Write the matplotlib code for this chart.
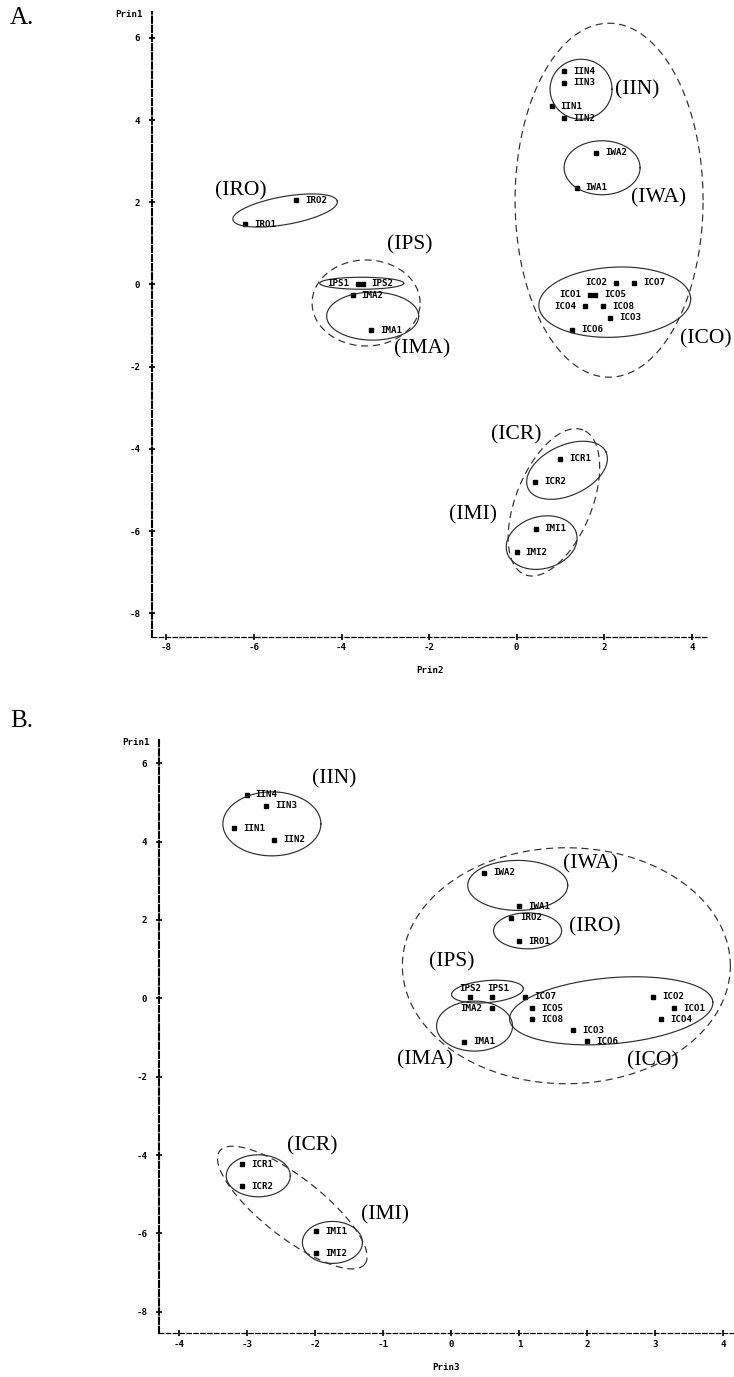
import numpy as np
import matplotlib
matplotlib.use("Agg")
import matplotlib.pyplot as plt

plt.rcParams["axes.unicode_minus"] = False

# principal component scores
samples = ["IIN1", "IIN2", "IIN3", "IIN4", "IWA1", "IWA2", "IRO1", "IRO2",
           "IPS1", "IPS2", "IMA1", "IMA2", "ICO1", "ICO2", "ICO3", "ICO4",
           "ICO5", "ICO6", "ICO7", "ICO8", "ICR1", "ICR2", "IMI1", "IMI2"]
prin1 = [4.34, 4.05, 4.91, 5.19, 2.35, 3.20, 1.46, 2.05,
         0.02, 0.02, -1.11, -0.26, -0.25, 0.04, -0.81, -0.53,
         -0.25, -1.10, 0.04, -0.53, -4.24, -4.80, -5.94, -6.51]
prin2 = [0.80, 1.08, 1.08, 1.08, 1.37, 1.81, -6.21, -5.04,
         -3.62, -3.52, -3.32, -3.75, 1.67, 2.27, 2.13, 1.56,
         1.79, 1.26, 2.68, 1.98, 0.99, 0.42, 0.43, 0.00]
prin3 = [-3.20, -2.61, -2.72, -3.01, 0.99, 0.48, 0.99, 0.88,
         0.59, 0.28, 0.19, 0.59, 3.27, 2.97, 1.79, 3.08,
         1.19, 1.99, 1.08, 1.19, -3.08, -3.08, -1.99, -1.99]

groups = ["(IIN)", "(IWA)", "(IRO)", "(IPS)", "(IMA)", "(ICO)", "(ICR)", "(IMI)"]

# group label positions (data units) per panel
group_pos_a = [(2.75, 4.73), (3.25, 2.10), (-6.31, 2.27), (-2.44, 0.96),
               (-2.16, -1.57), (4.32, -1.33), (-0.02, -3.67), (-1.00, -5.61)]
group_pos_b = [(-1.72, 5.59), (2.05, 3.43), (2.11, 1.82), (0.00, 0.93),
               (-0.38, -1.57), (2.96, -1.60), (-2.04, -3.77), (-0.98, -5.53)]

# outlines: centre (data), semi-axes in pixels, angle in degrees, dashed?
outlines_a = [
    (-5.29, 1.80, 53, 14, 10, False),
    (-3.54, 0.03, 42, 6, 0, False),
    (-3.29, -0.77, 46, 24, 0, False),
    (-3.44, -0.45, 54, 43, 0, True),
    (1.47, 4.75, 31, 30, 0, False),
    (1.95, 2.84, 38, 27, 0, False),
    (2.24, -0.43, 76, 35, 3, False),
    (2.11, 2.05, 94, 177, 0, True),
    (1.15, -4.52, 43, 25, 25, False),
    (0.57, -6.28, 36, 26, 15, False),
    (0.85, -5.30, 78, 38, 68, True),
]
outlines_b = [
    (-2.64, 4.45, 49, 32, 0, False),
    (0.975, 2.88, 50, 25, 0, False),
    (1.12, 1.72, 34, 18, 0, False),
    (0.53, 0.17, 36, 11, 5, False),
    (0.34, -0.71, 38, 25, 0, False),
    (2.35, -0.32, 102, 33, 5, False),
    (1.69, 0.83, 164, 118, 0, True),
    (-2.84, -4.53, 32, 21, 0, False),
    (-1.75, -6.23, 30, 21, 0, False),
    (-2.34, -5.34, 92, 30, -38, True),
]

# where a point label sits when not to the right
place_a = {"ICO2": "l", "ICO1": "l", "ICO4": "l", "IPS1": "l"}
place_b = {"IMA2": "l", "IPS2": "ac", "IPS1": "ar"}

MONO = dict(family="DejaVu Sans Mono", weight="bold", size=6.6)
SERIF = dict(family="Liberation Serif", size=15.5)

fig = plt.figure(figsize=(7.34, 13.77), dpi=100)


def draw_outline(ax, cx, cy, a, b, ang, dashed):
    bbox = ax.get_window_extent()
    x0, x1 = ax.get_xlim()
    y0, y1 = ax.get_ylim()
    sx = bbox.width / (x1 - x0)
    sy = bbox.height / (y1 - y0)
    t = np.linspace(0, 2 * np.pi, 300)
    r = np.radians(ang)
    u, v = a * np.cos(t), b * np.sin(t)
    X = u * np.cos(r) - v * np.sin(r)
    Y = u * np.sin(r) + v * np.cos(r)
    ls = (0, (6, 4)) if dashed else "-"
    ax.plot(cx + X / sx, cy + Y / sy, color="#2e2e2e", lw=0.85, ls=ls)


def make_panel(rect, xs, ys, xlim, ylim, xticks, xlab, place, outlines, gpos, letter, letter_xy):
    ax = fig.add_axes(rect)
    ax.set_xlim(*xlim)
    ax.set_ylim(*ylim)
    ax.set_xticks(xticks)
    ax.set_yticks(range(-8, 7, 2))
    ax.set_xticklabels([str(v) for v in xticks], **MONO)
    ax.set_yticklabels([str(v) for v in range(-8, 7, 2)], **MONO)
    for s in ["top", "right"]:
        ax.spines[s].set_visible(False)
    ax.spines["left"].set_linewidth(1.5)
    ax.spines["left"].set_linestyle((0, (3.0, 1.4)))
    ax.spines["bottom"].set_linewidth(0.9)
    ax.spines["bottom"].set_linestyle((0, (3.5, 2.0)))
    ax.tick_params(axis="y", direction="inout", length=5, width=1.2, pad=6)
    ax.tick_params(axis="x", direction="inout", length=5, width=1.2, pad=2)

    ax.plot(xs, ys, ls="none", marker="s", ms=2.5, color="black")
    for name, x, y in zip(samples, xs, ys):
        p = place.get(name, "r")
        if p == "r":
            ax.annotate(name, (x, y), xytext=(6.5, 0), textcoords="offset points",
                        ha="left", va="center", **MONO)
        elif p == "l":
            ax.annotate(name, (x, y), xytext=(-6.5, 0), textcoords="offset points",
                        ha="right", va="center", **MONO)
        elif p == "ac":
            ax.annotate(name, (x, y), xytext=(0, 6.5), textcoords="offset points",
                        ha="center", va="center", **MONO)
        else:
            ax.annotate(name, (x, y), xytext=(-3, 6.5), textcoords="offset points",
                        ha="left", va="center", **MONO)

    for cx, cy, a, b, ang, dashed in outlines:
        draw_outline(ax, cx, cy, a, b, ang, dashed)

    for g, (gx, gy) in zip(groups, gpos):
        ax.text(gx, gy, g, ha="center", va="center", **SERIF)

    ax.annotate("Prin1", (0, 1), xycoords="axes fraction", xytext=(-7, -2),
                textcoords="offset points", ha="right", va="center", **MONO)
    ax.annotate(xlab, (0.5, 0), xycoords="axes fraction", xytext=(0, -24.5),
                textcoords="offset points", ha="center", va="center", **MONO)
    fig.text(letter_xy[0], letter_xy[1], letter, ha="left", va="center",
             family="Liberation Serif", size=18)
    return ax


make_panel([0.2071, 0.5376, 0.7575, 0.4537], prin2, prin1,
           (-8.33, 4.37), (-8.57, 6.63), list(range(-8, 5, 2)), "Prin2",
           place_a, outlines_a, group_pos_a, "A.", (10 / 734, 1 - 18 / 1377))
make_panel([0.2166, 0.0317, 0.782, 0.4309], prin3, prin1,
           (-4.30, 4.14), (-8.55, 6.59), list(range(-4, 5)), "Prin3",
           place_b, outlines_b, group_pos_b, "B.", (10 / 734, 1 - 721 / 1377))

fig.savefig("out.png", dpi=100)
